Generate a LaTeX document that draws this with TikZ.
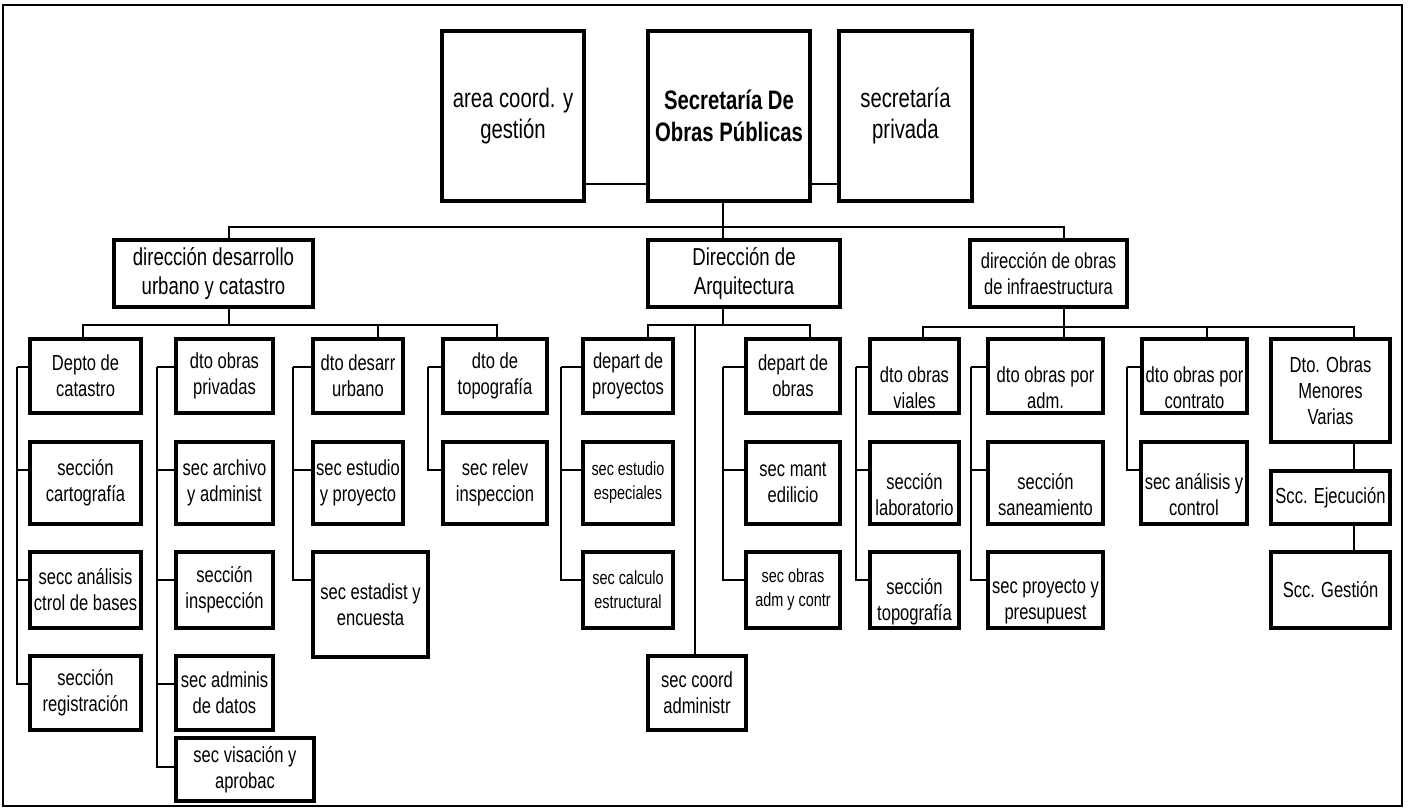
\documentclass[tikz,border=0pt]{standalone}
\usepackage{fontspec}
\setmainfont{Liberation Sans}[FakeStretch=0.76]
\newcommand{\fgrande}{\fontsize{19}{22.5}\selectfont}
\newcommand{\fmedio}{\fontsize{17.4}{20.6}\selectfont}
\newcommand{\fnormal}{\fontsize{15.5}{18.5}\selectfont}
\newcommand{\fchico}{\fontsize{13.5}{17}\selectfont}
\tikzset{
  caja/.style={draw, line width=2.4pt, inner sep=0pt},
  texto/.style={align=center, inner sep=0pt, font=\fnormal},
  linea/.style={line width=2.1pt},
  bajo/.style={yshift=-8pt},
}
% caja: [opciones del texto]{nombre}{x1}{y1}{x2}{y2}{texto}
\newcommand{\caja}[7][]{%
  \node[caja, minimum width={(#5-#3)*0.025cm}, minimum height={(#6-#4)*0.025cm}] (#2) at ({(#3+#5)/2},{(#4+#6)/2}) {};
  \node[texto,#1] (#2-t) at (#2.center) {#7};}
\begin{document}
\begin{tikzpicture}[x=0.025cm, y=-0.025cm]
  \useasboundingbox (0,0) rectangle (1409,809);
  \draw[line width=1.8pt] (3,5) rectangle (1402,806);

  % nivel superior
  \caja[font=\fgrande]{area}{442}{31}{584}{201}{area coord. y\\gestión}
  \caja[font=\fgrande\bfseries]{secre}{648}{31}{810}{201}{Secretaría De\\Obras Públicas}
  \caja[font=\fgrande]{priv}{839}{31}{972}{201}{secretaría\\privada}

  % direcciones
  \caja[font=\fmedio]{dirdes}{114}{240}{313}{307}{dirección desarrollo\\urbano y catastro}
  \caja[font=\fmedio]{dirarq}{648}{240}{840}{307}{Dirección de\\Arquitectura}
  \caja{dirinf}{970}{240}{1127}{307}{dirección de obras\\de infraestructura}

  % departamentos
  \caja{depcat}{30}{339}{141}{413}{Depto de\\catastro}
  \caja{dtopriv}{176}{339}{273}{413}{dto obras\\privadas}
  \caja{dtodes}{313}{339}{403}{413}{dto desarr\\urbano}
  \caja{dtotop}{443}{339}{547}{413}{dto de\\topografía}
  \caja{depproy}{583}{339}{673}{413}{depart de\\proyectos}
  \caja{depobr}{746}{339}{840}{413}{depart de\\obras}
  \caja[bajo]{dtovia}{870}{339}{959}{413}{dto obras\\viales}
  \caja[bajo]{dtoadm}{988}{339}{1103}{413}{dto obras por\\adm.}
  \caja[bajo]{dtocon}{1142}{339}{1247}{413}{dto obras por\\contrato}
  \caja{dtomen}{1271}{339}{1390}{442}{Dto. Obras\\Menores\\Varias}

  % secciones
  \caja{seccar}{30}{442}{141}{524}{sección\\cartografía}
  \caja{secarc}{176}{442}{273}{524}{sec archivo\\y administ}
  \caja{secest}{313}{442}{403}{524}{sec estudio\\y proyecto}
  \caja{secrel}{443}{442}{547}{524}{sec relev\\inspeccion}
  \caja[font=\fchico]{secesp}{583}{442}{673}{524}{sec estudio\\especiales}
  \caja{secman}{746}{442}{840}{524}{sec mant\\edilicio}
  \caja[bajo]{seclab}{870}{442}{959}{524}{sección\\laboratorio}
  \caja[bajo]{secsan}{988}{442}{1103}{524}{sección\\saneamiento}
  \caja[bajo]{secana}{1141}{442}{1247}{524}{sec análisis y\\control}
  \caja{sccej}{1271}{471}{1390}{524}{Scc. Ejecución}

  \caja{secctrl}{30}{552}{141}{628}{secc análisis\\ctrol de bases}
  \caja{secins}{176}{552}{273}{628}{sección\\inspección}
  \caja{secenc}{313}{552}{428}{657}{sec estadist y\\encuesta}
  \caja[font=\fchico]{seccal}{583}{552}{673}{628}{sec calculo\\estructural}
  \caja[font=\fchico]{secoad}{746}{552}{840}{628}{sec obras\\adm y contr}
  \caja[bajo]{sectop}{870}{552}{959}{628}{sección\\topografía}
  \caja[bajo]{secpre}{988}{552}{1103}{628}{sec proyecto y\\presupuest}
  \caja{sccges}{1271}{552}{1390}{628}{Scc. Gestión}

  \caja{secreg}{30}{656}{141}{730}{sección\\registración}
  \caja{secdat}{176}{656}{273}{730}{sec adminis\\de datos}
  \caja{seccoo}{648}{656}{746}{730}{sec coord\\administr}
  \caja{secvis}{176}{738}{314}{801}{sec visación y\\aprobac}

  % uniones del nivel superior
  \coordinate (h0) at (0,184);
  \coordinate (eje) at (723,0);
  \coordinate (b0) at (229,227);
  \coordinate (b1) at (1064,227);
  \draw[linea] (area.east |- h0) -- (secre.west |- h0);
  \draw[linea] (secre.east |- h0) -- (priv.west |- h0);
  \draw[linea] (eje |- secre.south) -- (eje |- dirarq.north);
  \draw[linea] (dirdes.north -| b0) -- (b0) -- (b1) -- (dirinf.north -| b1);

  % desarrollo urbano
  \coordinate (c0) at (83,325);
  \coordinate (c1) at (497,325);
  \coordinate (c2) at (378,325);
  \draw[linea] (dirdes.south -| b0) -- (b0 |- c0);
  \draw[linea] (depcat.north -| c0) -- (c0) -- (c1) -- (dtotop.north -| c1);
  \draw[linea] (c2) -- (dtodes.north -| c2);

  % arquitectura
  \coordinate (a0) at (648,325);
  \coordinate (a1) at (810,325);
  \coordinate (a2) at (695,325);
  \draw[linea] (dirarq.south -| eje) -- (eje |- a0);
  \draw[linea] (depproy.north -| a0) -- (a0) -- (a1) -- (depobr.north -| a1);
  \draw[line width=1.5pt] (a2) -- (seccoo.north -| a2);

  % infraestructura
  \coordinate (i0) at (923,327);
  \coordinate (i1) at (1354,327);
  \coordinate (i2) at (1207,327);
  \draw[linea] (dirinf.south -| b1) -- (dtoadm.north -| b1);
  \draw[linea] (dtovia.north -| i0) -- (i0) -- (i1) -- (dtomen.north -| i1);
  \draw[linea] (i2) -- (dtocon.north -| i2);
  \draw[linea] (dtomen.south -| i1) -- (sccej.north -| i1);
  \draw[linea] (sccej.south -| i1) -- (sccges.north -| i1);

  % ramales laterales
  \foreach \x/\lista in {
      17/{depcat/367,seccar/470,secctrl/580,secreg/684},
      157/{dtopriv/367,secarc/470,secins/580,secdat/684,secvis/767},
      293/{dtodes/367,secest/470,secenc/580},
      428/{dtotop/367,secrel/470},
      561/{depproy/367,secesp/470,seccal/580},
      723/{depobr/367,secman/470,secoad/580},
      856/{dtovia/367,seclab/470,sectop/580},
      971/{dtoadm/367,secsan/470,secpre/580},
      1127/{dtocon/367,secana/470}}{
    \foreach \n/\y in \lista
      \draw[linea] (\x,367) -- (\x,\y) -- (\n.west |- \x,\y);
  }
\end{tikzpicture}
\end{document}
